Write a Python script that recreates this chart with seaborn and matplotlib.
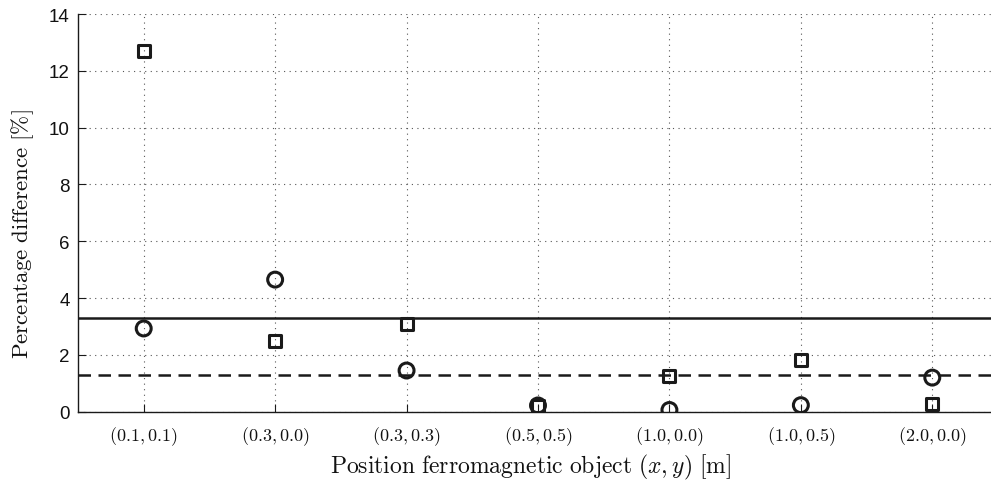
import matplotlib
matplotlib.use("Agg")
import matplotlib.pyplot as plt
import seaborn as sns
import pandas as pd

positions = ["(0.1,0.1)", "(0.3,0.0)", "(0.3,0.3)", "(0.5,0.5)", "(1.0,0.0)", "(1.0,0.5)", "(2.0,0.0)"]
squares = [12.7, 2.5, 3.1, 0.2, 1.25, 1.82, 0.28]
circles = [2.93, 4.65, 1.45, 0.22, 0.06, 0.23, 1.2]
solid_level = 3.3
dashed_level = 1.3
yticks = [0, 2, 4, 6, 8, 10, 12, 14]

sns.set_theme(style="white", rc={"text.color": "#111111", "xtick.color": "#111111",
                                  "ytick.color": "#111111", "axes.labelcolor": "#111111"})
plt.rcParams['font.family'] = ['Liberation Sans', 'DejaVu Sans']
plt.rcParams['mathtext.fontset'] = 'cm'

idx = list(range(1, len(positions) + 1))
df_sq = pd.DataFrame({"x": idx, "y": squares})
df_ci = pd.DataFrame({"x": idx, "y": circles})

fig = plt.figure(figsize=(9.91, 4.81), dpi=100)
ax = fig.add_axes([78/991, 1 - 412.7/481, (998-78)/991, (412.7-15)/481])

ax.axhline(solid_level, color='#1a1a1a', lw=1.8, zorder=2)
ax.axhline(dashed_level, color='#1a1a1a', lw=1.8, ls=(0, (5, 3)), zorder=2)

sns.scatterplot(data=df_sq, x="x", y="y", ax=ax, marker='s', s=75,
                facecolor='none', edgecolor='#1a1a1a', linewidth=2.2, zorder=3)
sns.scatterplot(data=df_ci, x="x", y="y", ax=ax, marker='o', s=115,
                facecolor='none', edgecolor='#1a1a1a', linewidth=2.2, zorder=3)

ax.set_xlim(0.5, len(positions) + 0.5)
ax.set_ylim(0, 14)
ax.set_xticks(idx)
ax.set_xticklabels([r'$' + p + r'$' for p in positions], fontsize=13)
ax.set_yticks(yticks)
ax.set_yticklabels([str(v) for v in yticks], fontsize=13.5)

ax.grid(True, color='#555555', ls=(0, (1, 4)), lw=0.8)
for s in ['top', 'right']:
    ax.spines[s].set_visible(False)
for s in ['left', 'bottom']:
    ax.spines[s].set_color('#1a1a1a')
    ax.spines[s].set_linewidth(1.0)
ax.tick_params(direction='in', length=6, width=0.8, color='#1a1a1a', left=True, bottom=True)
ax.tick_params(axis='x', pad=9)
ax.tick_params(axis='y', pad=6)

ax.set_xlabel(r'$\mathrm{Position\ ferromagnetic\ object\ }(x,y)\mathrm{\ [m]}$', fontsize=17)
ax.set_ylabel(r'$\mathrm{Percentage\ difference\ [\%]}$', fontsize=16.5)
ax.yaxis.set_label_coords(-0.046, 0.45)
ax.xaxis.set_label_coords(0.492, -0.1)

fig.savefig("out.png", dpi=100)
